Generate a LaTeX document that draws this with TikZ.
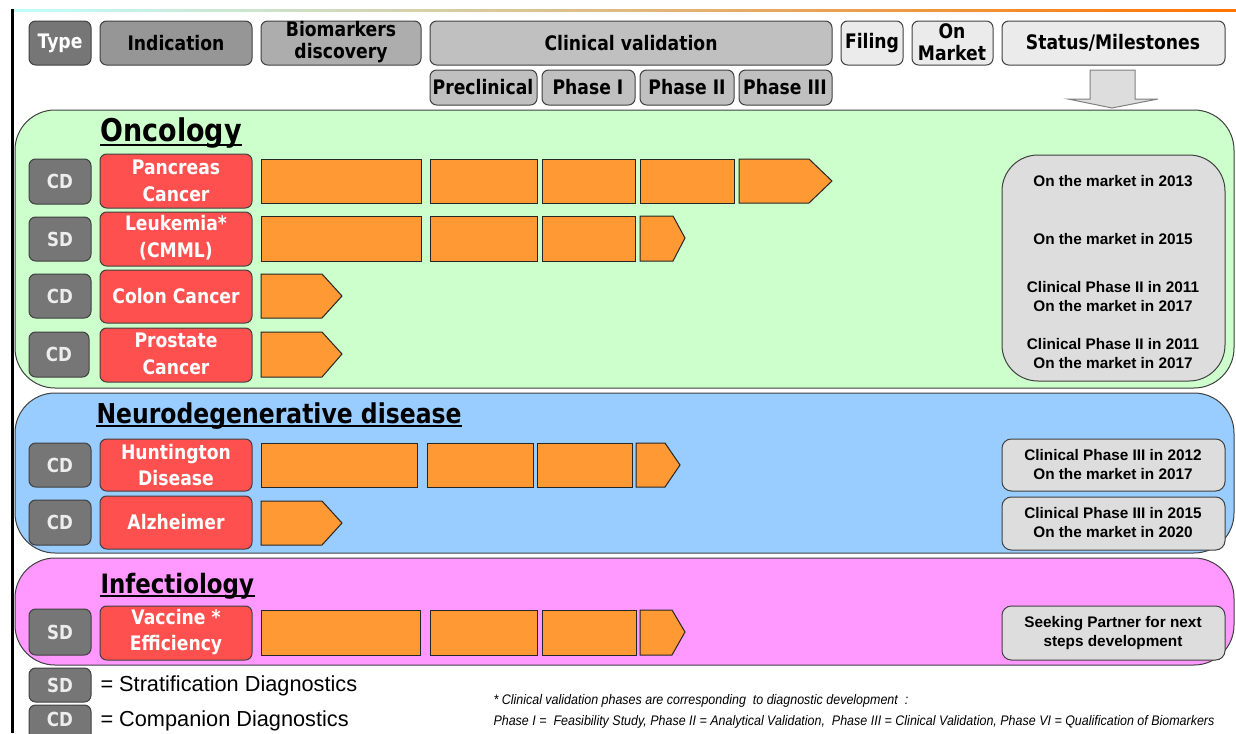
\documentclass[tikz,border=0pt]{standalone}
\usepackage{fontspec}
\usetikzlibrary{calc}
\newfontfamily\tahoma[FakeStretch=0.86]{DejaVu Sans}
\newfontfamily\arialf{Liberation Sans}
\newfontfamily\narrowf[FakeStretch=0.9]{Liberation Sans}

\definecolor{typegray}{HTML}{767676}
\definecolor{indgray}{HTML}{969696}
\definecolor{biogray}{HTML}{ADADAD}
\definecolor{clingray}{HTML}{C0C0C0}
\definecolor{lightgray}{HTML}{EBEBEB}
\definecolor{statgray}{HTML}{DDDDDD}
\definecolor{boxline}{HTML}{404040}
\definecolor{indred}{HTML}{FF5050}
\definecolor{barorange}{HTML}{FF9933}
\definecolor{oncogreen}{HTML}{CCFFCC}
\definecolor{neuroblue}{HTML}{99CCFF}
\definecolor{infpink}{HTML}{FF99FF}

\tikzset{every picture/.style={line width=0.75pt}}
\tikzset{
  hdr/.style={draw=boxline, rounded corners=5pt},
  panel/.style={draw=boxline, rounded corners=30pt},
  bar/.style={draw=black!85, fill=barorange},
  lbl/.style={inner sep=0.75pt, align=center, font=\tahoma\bfseries\fontsize{15}{16.5}\selectfont},
  redlbl/.style={lbl, text=white, font=\tahoma\bfseries\fontsize{15}{20}\selectfont},
  typelbl/.style={lbl, text=white!93!black, font=\tahoma\bfseries\fontsize{14.5}{16.5}\selectfont},
  title/.style={inner sep=0pt, anchor=west, font=\tahoma\bfseries\fontsize{21}{24}\selectfont},
  uline/.style={line width=1.5pt},
  statlbl/.style={inner sep=0.75pt, align=center, font=\arialf\bfseries\fontsize{11.5}{14.25}\selectfont},
  leglbl/.style={inner sep=0pt, anchor=west, font=\arialf\fontsize{16.3}{18}\selectfont},
  notelbl/.style={inner sep=0pt, anchor=west, font=\narrowf\itshape\fontsize{10.4}{12}\selectfont}
}

\begin{document}
\begin{tikzpicture}[x=0.75pt,y=0.75pt,yscale=-1,xscale=1]
\useasboundingbox (0,0) rectangle (1236,733);

% frame lines
\shade[left color=cyan!25!white, right color=orange!90!red] (12,9) rectangle (1236,11);
\fill[black] (10.5,9) rectangle (13.5,733);

% header row
\draw[hdr, fill=typegray] (29,21) rectangle (91,65);
\node[lbl, text=white] (hType) at (60,43) {Type};
\draw[hdr, fill=indgray] (100,21) rectangle (252,65);
\node[lbl] (hInd) at (176,43) {Indication};
\draw[hdr, fill=biogray] (261,21) rectangle (421,65);
\node[lbl] (hBio) at (341,42) {Biomarkers\\discovery};
\draw[hdr, fill=clingray] (430,21) rectangle (832,65);
\node[lbl] (hClin) at (631,43) {Clinical validation};
\draw[hdr, fill=lightgray] (841,21) rectangle (903,65);
\node[lbl] (hFil) at (872,43) {Filing};
\draw[hdr, fill=lightgray] (912,21) rectangle (993,65);
\node[lbl] (hMkt) at (952,42) {On\\Market};
\draw[hdr, fill=lightgray] (1002,21) rectangle (1225,65);
\node[lbl] (hStat) at (1113,43) {Status/Milestones};

% phases
\draw[hdr, fill=clingray] (430,70) rectangle (537,105);
\node[lbl] (pPre) at (483,87) {Preclinical};
\draw[hdr, fill=clingray] (542,70) rectangle (635,105);
\node[lbl] (pOne) at (588,87) {Phase I};
\draw[hdr, fill=clingray] (640,70) rectangle (734,105);
\node[lbl] (pTwo) at (687,87) {Phase II};
\draw[hdr, fill=clingray] (739,70) rectangle (832,105);
\node[lbl] (pThree) at (785,87) {Phase III};

% status arrow
\draw[draw=black!50, fill=statgray] (1090,70) -- (1135,70) -- (1135,99) -- (1158,99) -- (1112,108) -- (1068,99) -- (1090,99) -- cycle;

%% Oncology
\draw[panel, fill=oncogreen] (15,110) rectangle (1234,388);
\node[title, font=\tahoma\bfseries\fontsize{23.5}{26}\selectfont] (tOnco) at (100,133) {Oncology};
\draw[uline] ($(tOnco.south west)+(0,-4)$) -- ($(tOnco.south east)+(0,-4)$);

\draw[hdr, fill=typegray] (29,159) rectangle (91,204);
\node[typelbl] (t1) at (60,181) {CD};
\draw[hdr, fill=indred] (100,154) rectangle (252,208);
\node[redlbl] (i1) at (176,181) {Pancreas\\Cancer};
\draw[bar] (261,159) rectangle (421,203);
\draw[bar] (430,159) rectangle (537,203);
\draw[bar] (542,159) rectangle (635,203);
\draw[bar] (640,159) rectangle (734,203);
\draw[bar] (739,159) -- (809,159) -- (832,181) -- (809,203) -- (739,203) -- cycle;

\draw[hdr, fill=typegray] (29,217) rectangle (91,261);
\node[typelbl] (t2) at (60,239) {SD};
\draw[hdr, fill=indred] (100,212) rectangle (252,266);
\node[redlbl] (i2) at (176,238) {Leukemia*\\(CMML)};
\draw[bar] (261,216) rectangle (421,261);
\draw[bar] (430,216) rectangle (537,261);
\draw[bar] (542,216) rectangle (635,261);
\draw[bar] (640,216) -- (673,216) -- (685,238) -- (673,261) -- (640,261) -- cycle;

\draw[hdr, fill=typegray] (29,274) rectangle (91,318);
\node[typelbl] (t3) at (60,296) {CD};
\draw[hdr, fill=indred] (100,270) rectangle (252,323);
\node[redlbl] (i3) at (176,296) {Colon Cancer};
\draw[bar] (261,274) -- (322,274) -- (342,296) -- (322,318) -- (261,318) -- cycle;

\draw[hdr, fill=typegray] (29,332) rectangle (89,377);
\node[typelbl] (t4) at (59,354) {CD};
\draw[hdr, fill=indred] (100,328) rectangle (252,382);
\node[redlbl] (i4) at (176,354) {Prostate\\Cancer};
\draw[bar] (261,332) -- (322,332) -- (342,354) -- (322,377) -- (261,377) -- cycle;

\draw[draw=boxline, fill=statgray, rounded corners=27pt] (1002,155) rectangle (1225,381);
\node[statlbl] (s1) at (1113,181) {On the market in 2013};
\node[statlbl] (s2) at (1113,239) {On the market in 2015};
\node[statlbl] (s3) at (1113,297) {Clinical Phase II in 2011\\On the market in 2017};
\node[statlbl] (s4) at (1113,354) {Clinical Phase II in 2011\\On the market in 2017};

%% Neurodegenerative
\draw[panel, fill=neuroblue] (15,393) rectangle (1234,553);
\node[title, font=\tahoma\bfseries\fontsize{20.5}{24}\selectfont] (tNeuro) at (96,416) {Neurodegenerative disease};
\draw[uline] ($(tNeuro.south west)+(0,-4)$) -- ($(tNeuro.south east)+(0,-4)$);

\draw[hdr, fill=typegray] (29,443) rectangle (91,487);
\node[typelbl] (t5) at (60,465) {CD};
\draw[hdr, fill=indred] (100,439) rectangle (252,491);
\node[redlbl] (i5) at (176,465) {Huntington\\Disease};
\draw[bar] (261,443) rectangle (417,487);
\draw[bar] (427,443) rectangle (533,487);
\draw[bar] (537,443) rectangle (632,487);
\draw[bar] (636,443) -- (665,443) -- (680,465) -- (665,487) -- (636,487) -- cycle;

\draw[hdr, fill=typegray] (29,500) rectangle (91,545);
\node[typelbl] (t6) at (60,522) {CD};
\draw[hdr, fill=indred] (100,496) rectangle (252,549);
\node[redlbl] (i6) at (176,522) {Alzheimer};
\draw[bar] (261,501) -- (322,501) -- (342,523) -- (322,545) -- (261,545) -- cycle;

\draw[hdr, fill=statgray, rounded corners=7pt] (1002,439) rectangle (1225,491);
\node[statlbl] (s5) at (1113,465) {Clinical Phase III in 2012\\On the market in 2017};
\draw[hdr, fill=statgray, rounded corners=7pt] (1002,497) rectangle (1225,550);
\node[statlbl] (s6) at (1113,523) {Clinical Phase III in 2015\\On the market in 2020};

%% Infectiology
\draw[panel, fill=infpink] (15,558) rectangle (1234,665);
\node[title, font=\tahoma\bfseries\fontsize{20}{24}\selectfont] (tInf) at (100,586) {Infectiology};
\draw[uline] ($(tInf.south west)+(0,-4)$) -- ($(tInf.south east)+(0,-4)$);

\draw[hdr, fill=typegray] (29,609) rectangle (91,655);
\node[typelbl] (t7) at (60,632) {SD};
\draw[hdr, fill=indred] (100,606) rectangle (252,660);
\node[redlbl] (i7) at (176,632) {Vaccine *\\Efficiency};
\draw[bar] (261,610) rectangle (420,655);
\draw[bar] (430,610) rectangle (537,655);
\draw[bar] (542,610) rectangle (636,655);
\draw[bar] (640,610) -- (672,610) -- (685,632) -- (672,655) -- (640,655) -- cycle;

\draw[hdr, fill=statgray, rounded corners=7pt] (1002,606) rectangle (1225,660);
\node[statlbl] (s7) at (1113,633) {Seeking Partner for next\\steps development};

%% legend and note
\draw[hdr, fill=typegray] (29,668) rectangle (91,702);
\node[typelbl] (kSD) at (60,685) {SD};
\node[leglbl] (kSDtxt) at (100,686) {= Stratification Diagnostics};
\draw[hdr, fill=typegray] (29,705) rectangle (91,742);
\node[typelbl] (kCD) at (60,719) {CD};
\node[leglbl] (kCDtxt) at (100,721) {= Companion Diagnostics};

\node[notelbl] (note1) at (493,701) {* Clinical validation phases are corresponding\ \ to diagnostic development\ \ :};
\node[notelbl] (note2) at (493,722) {Phase I =\ \ Feasibility Study, Phase II = Analytical Validation,\ \ Phase III = Clinical Validation, Phase VI = Qualification of Biomarkers};

\end{tikzpicture}
\end{document}
